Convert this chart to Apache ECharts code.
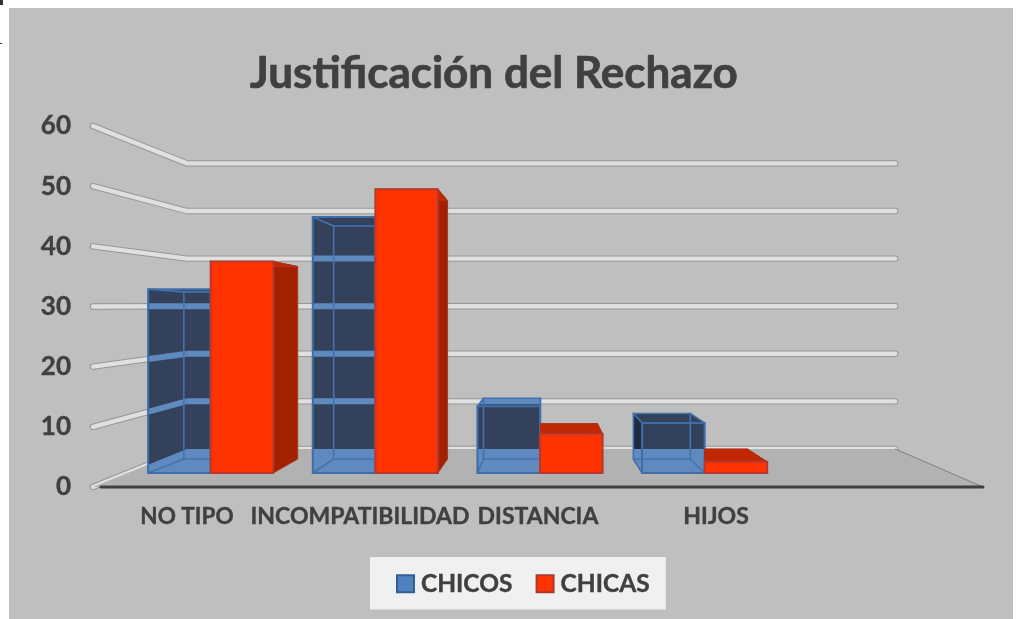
<!DOCTYPE html>
<html>
<head>
<meta charset="utf-8">
<style>html,body{margin:0;padding:0;background:#fff}#c{width:1021px;height:619px}</style>
<script src="https://cdn.jsdelivr.net/npm/echarts@6/dist/echarts.min.js"></script>
</head>
<body>
<div id="c"></div>
<script>
const titleText = 'Justificación del Rechazo';
const categories = ['NO TIPO', 'INCOMPATIBILIDAD', 'DISTANCIA', 'HIJOS', ''];
const chicos = [33, 46, 12, 9];
const chicas = [38, 51, 7, 2];
const yTicks = [0, 10, 20, 30, 40, 50, 60];

const VP = [553, 305], BACK_K = [0.796, 0.791];   // wall perspective
const barFrontK = [0.925, 0.925], barFrontO = [564.7, 300];  // bar front plane
const barVP = [545, 318], barR = 0.91;            // bar depth
const BAR_FRAC = 0.38;
const FONT = 'Lato, Carlito, "Open Sans", sans-serif';
const TXT = '#404040';

const toBack = p => [VP[0] + (p[0] - VP[0]) * BACK_K[0], VP[1] + (p[1] - VP[1]) * BACK_K[1]];
const barF = p => [barFrontO[0] + (p[0] - barFrontO[0]) * barFrontK[0], barFrontO[1] + (p[1] - barFrontO[1]) * barFrontK[1]];
const barB = p => [barVP[0] + (p[0] - barVP[0]) * barR, barVP[1] + (p[1] - barVP[1]) * barR];

function cross(o, a, b) { return (a[0] - o[0]) * (b[1] - o[1]) - (a[1] - o[1]) * (b[0] - o[0]); }
function hull(pts) {
  const p = pts.slice().sort((a, b) => a[0] - b[0] || a[1] - b[1]);
  const lo = [], up = [];
  for (const q of p) { while (lo.length > 1 && cross(lo[lo.length - 2], lo[lo.length - 1], q) <= 0) lo.pop(); lo.push(q); }
  for (const q of p.slice().reverse()) { while (up.length > 1 && cross(up[up.length - 2], up[up.length - 1], q) <= 0) up.pop(); up.push(q); }
  return lo.slice(0, -1).concat(up.slice(0, -1));
}
function clip(sub, hullPts) {
  let out = sub;
  for (let i = 0; i < hullPts.length && out.length; i++) {
    const a = hullPts[i], b = hullPts[(i + 1) % hullPts.length], inp = out; out = [];
    for (let j = 0; j < inp.length; j++) {
      const c = inp[j], d = inp[(j + 1) % inp.length];
      const cc = cross(a, b, c), cd = cross(a, b, d);
      if (cc >= 0) out.push(c);
      if ((cc >= 0) !== (cd >= 0)) { const t = cc / (cc - cd); out.push([c[0] + (d[0] - c[0]) * t, c[1] + (d[1] - c[1]) * t]); }
    }
  }
  return out;
}
function poly(points, fill, stroke, w) {
  return { type: 'polygon', silent: true, shape: { points }, style: { fill: fill || 'none', stroke: stroke || 'none', lineWidth: w || 0, lineJoin: 'miter' } };
}
function line(points, stroke, w) {
  return { type: 'polyline', silent: true, shape: { points }, style: { fill: 'none', stroke, lineWidth: w, lineCap: 'round', lineJoin: 'round' } };
}
function floorPts(api, cs) {
  const y0 = api.coord([0, 0])[1], l = [cs.x, y0], r = [cs.x + cs.width, y0];
  return [l, toBack(l), toBack(r), r];
}
function bandQuads(api, cs) {
  const out = [];
  yTicks.forEach(v => {
    if (v === 0) return;
    const y = api.coord([0, v])[1], a = [cs.x, y], b = toBack(a), c = toBack([cs.x + cs.width, y]);
    out.push([[a[0], a[1] - 3], [b[0], b[1] - 3], [b[0], b[1] + 3], [a[0], a[1] + 3]]);
    out.push([[b[0], b[1] - 3], [c[0], c[1] - 3], [c[0], c[1] + 3], [b[0], b[1] + 3]]);
  });
  return out;
}
function barBox(api, val, side) {
  const base = api.coord([api.value(0), 0]), top = api.coord([api.value(0), val]);
  const w = api.size([1, 0])[0] * BAR_FRAC;
  const xa = side < 0 ? base[0] - w : base[0], xb = xa + w;
  const fTL = barF([xa, top[1]]), fTR = barF([xb, top[1]]), fBR = barF([xb, base[1]]), fBL = barF([xa, base[1]]);
  return { fTL, fTR, fBR, fBL, bTL: barB(fTL), bTR: barB(fTR), bBR: barB(fBR), bBL: barB(fBL) };
}
function renderWall(params, api) {
  const cs = params.coordSys, y = api.coord([0, api.value(0)])[1];
  const a = [cs.x, y], b = toBack(a), c = toBack([cs.x + cs.width, y]);
  const pts = [a, b, c];
  return { type: 'group', children: [line(pts, '#969696', 6.4), line(pts, '#e0e0e0', 4.4)] };
}
function renderFloor(params, api) {
  const cs = params.coordSys, f = floorPts(api, cs);
  return { type: 'group', children: [
    poly(f, '#b2b2b2'),
    line([f[2], f[3]], '#7f7f7f', 1),
    line([[f[0][0] + 8, f[0][1]], f[3]], '#3f3f3f', 3)
  ] };
}
function renderChicos(params, api) {
  const cs = params.coordSys, B = barBox(api, api.value(1), -1);
  const H = hull([B.fTL, B.fTR, B.fBR, B.fBL, B.bTL, B.bTR, B.bBR, B.bBL]);
  const kids = [poly(H, '#33425a')];
  if (B.bTL[0] < B.fTL[0]) kids.push(poly([B.fTL, B.bTL, B.bBL, B.fBL], '#1f2c3f'));
  bandQuads(api, cs).forEach(q => { const c = clip(q, H); if (c.length > 2) kids.push(poly(c, '#5f8abf')); });
  const fl = clip(floorPts(api, cs), H);
  if (fl.length > 2) kids.push(poly(fl, '#5f8abf'));
  const LC = '#4472ad';
  kids.push(poly([B.bTL, B.bTR, B.bBR, B.bBL], null, LC, 1.6));
  [['fTL', 'bTL'], ['fTR', 'bTR'], ['fBR', 'bBR'], ['fBL', 'bBL']].forEach(k => kids.push(line([B[k[0]], B[k[1]]], LC, 1.6)));
  kids.push(poly([B.fTL, B.fTR, B.fBR, B.fBL], null, '#3f6da8', 2));
  return { type: 'group', children: kids };
}
function renderChicas(params, api) {
  const B = barBox(api, api.value(1), 1);
  const bl = [Math.max(B.bTL[0], B.fTL[0]), B.bTL[1]];
  return { type: 'group', children: [
    poly([B.fTR, B.bTR, B.bBR, B.fBR], '#a32000', '#a33a2a', 1),
    poly([B.fTL, bl, B.bTR, B.fTR], '#bf2800', '#b03020', 1),
    poly([B.fTL, B.fTR, B.fBR, B.fBL], '#ff3300', '#b5392c', 2)
  ] };
}

const chart = echarts.init(document.getElementById('c'), null, { renderer: 'canvas' });
const heavy = w => ({ textBorderColor: TXT, textBorderWidth: w });
chart.setOption({
  animation: false,
  backgroundColor: '#ffffff',
  graphic: { elements: [
    { type: 'rect', z: -10, silent: true, shape: { x: 9, y: 8, width: 1004, height: 611 }, style: { fill: '#bfbfbf' } },
    { type: 'rect', z: -10, silent: true, shape: { x: 0, y: 0, width: 3, height: 5 }, style: { fill: '#333333' } },
    { type: 'rect', z: -10, silent: true, shape: { x: 0, y: 43, width: 2, height: 1 }, style: { fill: '#333333' } }
  ] },
  title: {
    text: titleText, left: 250, top: 52, padding: 0,
    textStyle: Object.assign({ fontFamily: FONT, fontWeight: 'bold', fontSize: 44, color: TXT }, heavy(0.7))
  },
  legend: {
    data: ['CHICOS', 'CHICAS'], left: 370, top: 557, orient: 'horizontal',
    padding: [14, 16, 13, 26], backgroundColor: '#f0f0f0', borderRadius: 0,
    icon: 'rect', itemWidth: 17, itemHeight: 17, itemGap: 23,
    textStyle: Object.assign({ fontFamily: FONT, fontWeight: 'bold', fontSize: 24.5, color: TXT, padding: [0, 0, 8, 2] }, heavy(0.4))
  },
  grid: { left: 93, right: 38, top: 126, height: 361, containLabel: false },
  xAxis: {
    type: 'category', data: categories,
    axisLine: { show: false }, axisTick: { show: false }, splitLine: { show: false },
    axisLabel: Object.assign({
      interval: 0, hideOverlap: false, margin: 18, fontFamily: FONT, fontWeight: 'bold', fontSize: 23, color: TXT,
      formatter: v => v === categories[0] ? '{first|' + v + '}' : v,
      rich: { first: Object.assign({ padding: [0, 0, 0, 10], fontFamily: FONT, fontWeight: 'bold', fontSize: 22.5, color: TXT }, heavy(0.4)) }
    }, heavy(0.4))
  },
  yAxis: {
    type: 'value', min: 0, max: 60, interval: 10,
    axisLine: { show: false }, axisTick: { show: false }, splitLine: { show: false },
    axisLabel: Object.assign({ margin: 22, padding: [0, 0, 4, 0], fontFamily: FONT, fontWeight: 'bold', fontSize: 26, color: TXT }, heavy(0.4))
  },
  series: [
    { type: 'custom', name: 'wall', renderItem: renderWall, data: yTicks.map(v => [v]), encode: { y: 0 }, silent: true, z: 1, clip: false },
    { type: 'custom', name: 'floor', renderItem: renderFloor, data: [[0]], encode: { y: 0 }, silent: true, z: 2, clip: false },
    { type: 'custom', name: 'CHICOS', renderItem: renderChicos, data: chicos.map((v, i) => [i, v]), encode: { x: 0, y: 1 }, z: 3, clip: false,
      itemStyle: { color: '#4f81bd', borderColor: '#2f5f98', borderWidth: 2 } },
    { type: 'custom', name: 'CHICAS', renderItem: renderChicas, data: chicas.map((v, i) => [i, v]), encode: { x: 0, y: 1 }, z: 4, clip: false,
      itemStyle: { color: '#ff3300', borderColor: '#a83a30', borderWidth: 2 } }
  ]
});
</script>
</body>
</html>
